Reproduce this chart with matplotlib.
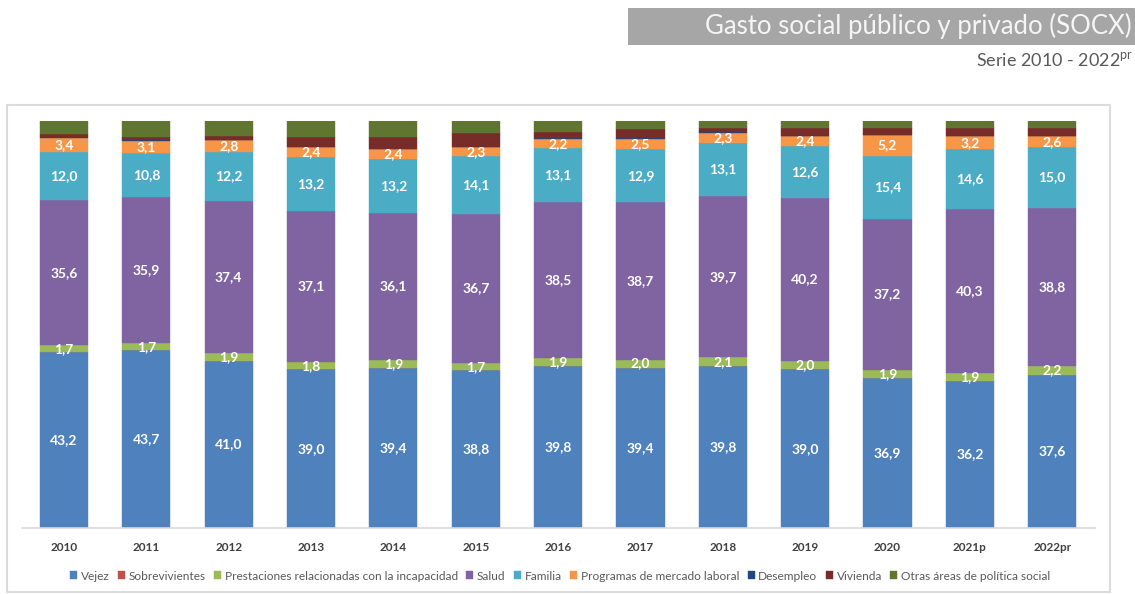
import numpy as np
import matplotlib.pyplot as plt
from matplotlib.patches import Rectangle

# Data (percent of total social expenditure)
years = ['2010', '2011', '2012', '2013', '2014', '2015', '2016',
         '2017', '2018', '2019', '2020', '2021p', '2022pr']

vejez = [43.2, 43.7, 41.0, 39.0, 39.4, 38.8, 39.8, 39.4, 39.8, 39.0, 36.9, 36.2, 37.6]
sobrevivientes = [0.0] * 13
incapacidad = [1.7, 1.7, 1.9, 1.8, 1.9, 1.7, 1.9, 2.0, 2.1, 2.0, 1.9, 1.9, 2.2]
salud = [35.6, 35.9, 37.4, 37.1, 36.1, 36.7, 38.5, 38.7, 39.7, 40.2, 37.2, 40.3, 38.8]
familia = [12.0, 10.8, 12.2, 13.2, 13.2, 14.1, 13.1, 12.9, 13.1, 12.6, 15.4, 14.6, 15.0]
mercado = [3.4, 3.1, 2.8, 2.4, 2.4, 2.3, 2.2, 2.5, 2.3, 2.4, 5.2, 3.2, 2.6]
desempleo = [0.2, 0.2, 0.1, 0.0, 0.0, 0.0, 0.3, 0.3, 0.2, 0.1, 0.0, 0.1, 0.1]
vivienda = [0.6, 0.6, 1.0, 2.5, 3.0, 3.5, 1.6, 2.2, 1.2, 2.1, 1.8, 1.9, 1.9]
otras = [3.3, 4.0, 3.6, 4.0, 4.0, 2.9, 2.6, 2.0, 1.6, 1.6, 1.6, 1.8, 1.8]

series = [
    ('Vejez', vejez, '#4f81bd', True),
    ('Sobrevivientes', sobrevivientes, '#c0504d', False),
    ('Prestaciones relacionadas con la incapacidad', incapacidad, '#9bbb59', True),
    ('Salud', salud, '#8064a2', True),
    ('Familia', familia, '#4bacc6', True),
    ('Programas de mercado laboral', mercado, '#f79646', True),
    ('Desempleo', desempleo, '#1f497d', False),
    ('Vivienda', vivienda, '#772c2a', False),
    ('Otras áreas de política social', otras, '#5f7530', False),
]

plt.rcParams['font.family'] = ['Lato', 'DejaVu Sans']

W, H = 1135, 594
fig = plt.figure(figsize=(W / 100, H / 100), dpi=100)

# chart frame
fig.patches.append(Rectangle((7 / W, 2 / H), (1110 - 7) / W, (594 - 105 - 2) / H,
                             transform=fig.transFigure, facecolor='none',
                             edgecolor='#dcdcdc', linewidth=1.5))

ax = fig.add_axes([22 / W, (H - 528) / H, (1095 - 22) / W, (528 - 121) / H])
ax.set_facecolor('none')

x = np.arange(len(years))
bottom = np.zeros(len(years))
for name, vals, color, labelled in series:
    vals = np.array(vals)
    ax.bar(x, vals, 0.585, bottom=bottom, color=color, label=name,
           edgecolor=color, linewidth=0.3)
    if labelled:
        for xi, b, v in zip(x, bottom, vals):
            ax.text(xi, b + v / 2, f'{v:.1f}'.replace('.', ','), ha='center',
                    va='center', color='white', fontsize=10, fontweight='bold')
    bottom += vals

ax.set_xlim(-0.51, 12.52)
ax.set_ylim(0, 100)
ax.set_xticks(x)
ax.set_xticklabels(years, fontsize=8.5, fontweight='bold', color='#404040')
ax.tick_params(axis='x', length=0, pad=10)
ax.set_yticks([])
for s in ['top', 'right', 'left']:
    ax.spines[s].set_visible(False)
ax.spines['bottom'].set_color('#d9d9d9')
ax.spines['bottom'].set_linewidth(1.2)

handles, labels = ax.get_legend_handles_labels()
fig.legend(handles, labels, loc='center', bbox_to_anchor=(560 / W, (H - 576) / H),
           ncol=9, frameon=False, fontsize=8.6, handlelength=0.6, handleheight=0.6,
           handletextpad=0.3, columnspacing=0.7, labelcolor='#595959')

# title box
fig.patches.append(Rectangle((628 / W, (H - 45) / H), (W - 628) / W, 37 / H,
                             transform=fig.transFigure, facecolor='#a6a6a6',
                             edgecolor='none'))
fig.text(1132 / W, (H - 26) / H, 'Gasto social público y privado (SOCX)',
         ha='right', va='center', fontsize=18.5, color='#f5f5f5')
fig.text(1133 / W, (H - 60) / H, 'Serie 2010 - 2022$^{\\mathregular{pr}}$',
         ha='right', va='center', fontsize=13, color='#595959')

fig.savefig('out.png', dpi=100)
